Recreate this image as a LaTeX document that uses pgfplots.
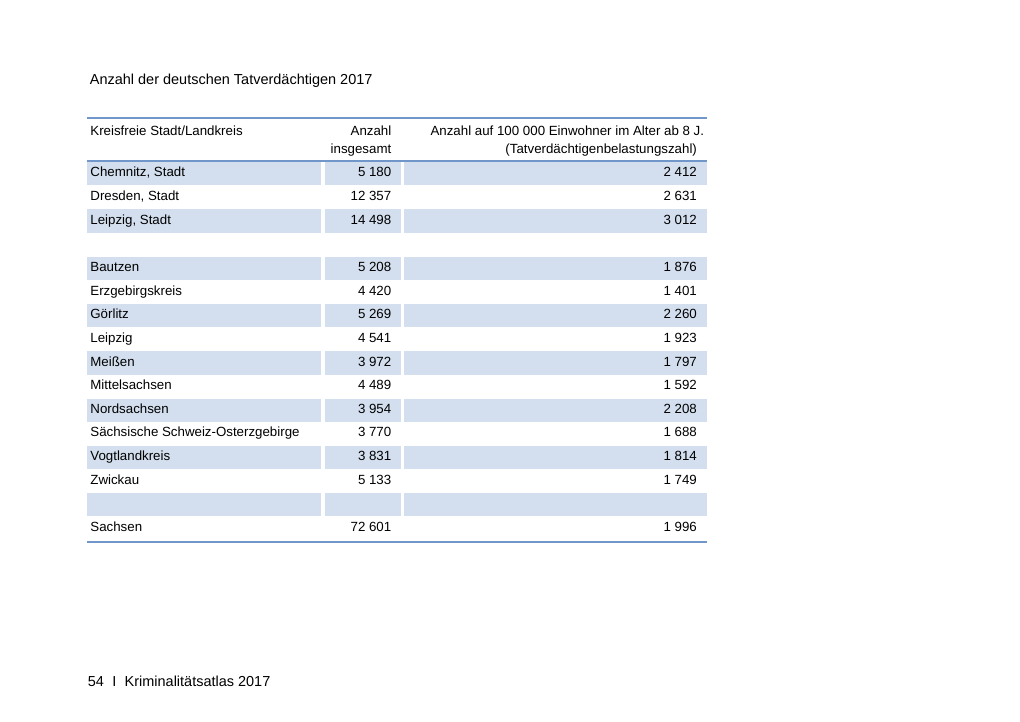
\documentclass[border=0pt]{standalone}
\usepackage{pgfplots}
\pgfplotsset{compat=1.18}
\usepackage{pgfplotstable}
\usepackage{fontspec}
\setmainfont{Liberation Sans}

\definecolor{rulecol}{RGB}{112,150,202}
\definecolor{bandcol}{RGB}{211,223,238}

% i = row index in the table (3 and 14 are empty rows)
\pgfplotstableread[col sep=semicolon]{
i;name;anzahl;tvbz
0;Chemnitz, Stadt;5180;2412
1;Dresden, Stadt;12357;2631
2;Leipzig, Stadt;14498;3012
4;Bautzen;5208;1876
5;Erzgebirgskreis;4420;1401
6;Görlitz;5269;2260
7;Leipzig;4541;1923
8;Meißen;3972;1797
9;Mittelsachsen;4489;1592
10;Nordsachsen;3954;2208
11;Sächsische Schweiz-Osterzgebirge;3770;1688
12;Vogtlandkreis;3831;1814
13;Zwickau;5133;1749
15;Sachsen;72601;1996
}\kreise

\newcommand{\bodyfont}{\fontsize{6.65pt}{8pt}\selectfont}
\newcommand{\bigfont}{\fontsize{7.24pt}{8.5pt}\selectfont}

\begin{document}
\begin{tikzpicture}
\begin{axis}[
    width=510pt, height=360.5pt, scale only axis,
    xmin=0, xmax=1020, ymin=0, ymax=721, y dir=reverse,
    hide axis, clip=false,
    every node near coord/.append style={inner sep=0pt, text=black, font=\bodyfont},
]
\path (axis cs:0,0) rectangle (axis cs:1020,721);

% shaded rows
\pgfplotsinvokeforeach{0,2,...,14}{
  \fill[bandcol] (axis cs:86.5,{162+23.65*#1}) rectangle (axis cs:321,{185.3+23.65*#1});
  \fill[bandcol] (axis cs:324.5,{162+23.65*#1}) rectangle (axis cs:400.5,{185.3+23.65*#1});
  \fill[bandcol] (axis cs:403.5,{162+23.65*#1}) rectangle (axis cs:707,{185.3+23.65*#1});
}

% rules
\draw[rulecol, line width=1pt] (axis cs:86.5,118) -- (axis cs:707,118);
\draw[rulecol, line width=1pt] (axis cs:86.5,161) -- (axis cs:707,161);
\draw[rulecol, line width=1pt] (axis cs:86.5,542) -- (axis cs:707,542);

% names
\addplot[draw=none, mark=none, point meta=explicit symbolic,
    nodes near coords, nodes near coords style={anchor=base west}]
    table[x expr=90, y expr=176.8+23.65*\thisrow{i}, meta=name] {\kreise};
% Anzahl insgesamt
\addplot[draw=none, mark=none, point meta=explicit,
    nodes near coords={\pgfmathprintnumber[fixed, precision=0, 1000 sep={\ }, assume math mode=true]{\pgfplotspointmeta}},
    nodes near coords style={anchor=base east}]
    table[x expr=391.7, y expr=176.8+23.65*\thisrow{i}, meta=anzahl] {\kreise};
% TVBZ
\addplot[draw=none, mark=none, point meta=explicit,
    nodes near coords={\pgfmathprintnumber[fixed, precision=0, 1000 sep={\ }, assume math mode=true]{\pgfplotspointmeta}},
    nodes near coords style={anchor=base east}]
    table[x expr=697.3, y expr=176.8+23.65*\thisrow{i}, meta=tvbz] {\kreise};

% header
\node[anchor=base west, inner sep=0pt, font=\bodyfont] at (axis cs:90,135.8) {Kreisfreie Stadt/Landkreis};
\node[anchor=base east, inner sep=0pt, font=\bodyfont] at (axis cs:391.7,135.8) {Anzahl};
\node[anchor=base east, inner sep=0pt, font=\bodyfont] at (axis cs:391.7,153.2) {insgesamt};
\node[anchor=base east, inner sep=0pt, font=\bodyfont] at (axis cs:704.5,135.8) {Anzahl auf 100 000 Einwohner im Alter ab 8 J.};
\node[anchor=base east, inner sep=0pt, font=\bodyfont] at (axis cs:697.3,153.2) {(Tatverdächtigenbelastungszahl)};

% title and footer
\node[anchor=base west, inner sep=0pt, font=\bigfont] at (axis cs:89.5,85) {Anzahl der deutschen Tatverdächtigen 2017};
\node[anchor=base west, inner sep=0pt, font=\bigfont] at (axis cs:87.5,686.5) {54};
\node[anchor=base west, inner sep=0pt, font=\bigfont] at (axis cs:112,686.5) {I};
\node[anchor=base west, inner sep=0pt, font=\bigfont] at (axis cs:124.3,686.5) {Kriminalitätsatlas 2017};
\end{axis}
\end{tikzpicture}
\end{document}
